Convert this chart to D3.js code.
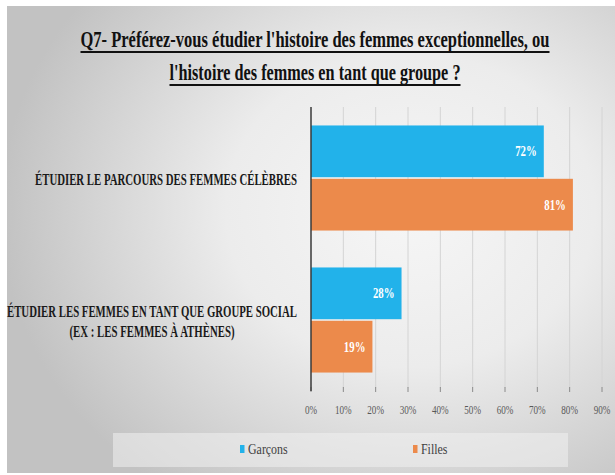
<!DOCTYPE html>
<html><head><meta charset="utf-8">
<script src="https://cdn.jsdelivr.net/npm/d3@7"></script>
<style>html,body{margin:0;padding:0;background:#fff;}svg{display:block;}</style>
</head><body>
<svg id="chart" width="615" height="475"></svg>
<script>
const titleLines = ["Q7- Préférez-vous étudier l'histoire des femmes exceptionnelles, ou", "l'histoire des femmes en tant que groupe ?"];
const categories = ["ÉTUDIER LE PARCOURS DES FEMMES CÉLÈBRES", "ÉTUDIER LES FEMMES EN TANT QUE GROUPE SOCIAL|(EX : LES FEMMES À ATHÈNES)"];
const seriesNames = ["Garçons", "Filles"];
const garcons = [0.72, 0.28];
const filles = [0.81, 0.19];
const tickValues = [0, 0.1, 0.2, 0.3, 0.4, 0.5, 0.6, 0.7, 0.8, 0.9];
const colors = ["#22b2ea", "#ec8a4b"];

const FONT = '"Liberation Serif", "Times New Roman", serif';
const svg = d3.select("#chart");
const defs = svg.append("defs");
const grad = defs.append("radialGradient").attr("id", "bg")
  .attr("gradientUnits", "userSpaceOnUse")
  .attr("cx", 410).attr("cy", 210).attr("r", 410)
  .attr("gradientTransform", "translate(410,210) scale(1,0.85) translate(-410,-210)");
grad.append("stop").attr("offset", 0).attr("stop-color", "#f6f6f6");
grad.append("stop").attr("offset", 0.45).attr("stop-color", "#ececec");
grad.append("stop").attr("offset", 1).attr("stop-color", "#c2c2c2");

svg.append("rect").attr("x", 7).attr("y", 6).attr("width", 608).attr("height", 467).attr("fill", "url(#bg)");

function condense(sel, factor) {
  sel.each(function() {
    const w = this.getComputedTextLength();
    d3.select(this).attr("textLength", w * factor).attr("lengthAdjust", "spacingAndGlyphs");
  });
}

// Title
const titleWidths = [469, 291];
const titleY = [47, 80];
titleLines.forEach((t, i) => {
  svg.append("text").attr("x", 315).attr("y", titleY[i]).attr("text-anchor", "middle")
    .style("font-family", FONT).style("font-weight", "bold").style("font-size", "24px")
    .attr("fill", "#111").attr("textLength", titleWidths[i]).attr("lengthAdjust", "spacingAndGlyphs").text(t);
  svg.append("line").attr("x1", 315 - titleWidths[i] / 2).attr("x2", 315 + titleWidths[i] / 2)
    .attr("y1", titleY[i] + 5).attr("y2", titleY[i] + 5).attr("stroke", "#111").attr("stroke-width", 2);
});

// Scales
const plotTop = 107, plotBottom = 391;
const x = d3.scaleLinear().domain([0, 0.9]).range([311, 602]);
const y0 = d3.scaleBand().domain(categories).range([plotTop, plotBottom]).paddingInner(0.26).paddingOuter(0.13);
const y1 = d3.scaleBand().domain(seriesNames).range([0, y0.bandwidth()]).paddingInner(0.03);

// gridlines
svg.append("g").selectAll("line").data(tickValues.slice(1)).join("line")
  .attr("x1", d => x(d)).attr("x2", d => x(d)).attr("y1", plotTop).attr("y2", plotBottom - 3)
  .attr("stroke", "#d4d4d4").attr("stroke-width", 1);
// tick marks
svg.append("g").selectAll("line").data(tickValues).join("line")
  .attr("x1", d => x(d)).attr("x2", d => x(d)).attr("y1", plotBottom - 4).attr("y2", plotBottom + 1)
  .attr("stroke", "#8a8a8a").attr("stroke-width", 1);

// tick labels
const tl = svg.append("g").selectAll("text").data(tickValues).join("text")
  .attr("x", d => x(d)).attr("y", 414).attr("text-anchor", "middle")
  .style("font-family", FONT).style("font-size", "13px").attr("fill", "#595959")
  .text(d => d3.format(".0%")(d));
condense(tl, 0.7);

// bars
const data = categories.map((c, i) => ({cat: c, vals: [{s: seriesNames[0], v: garcons[i], c: colors[0]}, {s: seriesNames[1], v: filles[i], c: colors[1]}]}));
const groups = svg.append("g").selectAll("g").data(data).join("g")
  .attr("transform", d => `translate(0,${y0(d.cat)})`);
groups.selectAll("rect").data(d => d.vals).join("rect")
  .attr("x", x(0)).attr("y", d => y1(d.s)).attr("width", d => x(d.v) - x(0)).attr("height", y1.bandwidth())
  .attr("fill", d => d.c);
const dl = groups.selectAll("text").data(d => d.vals).join("text")
  .attr("x", d => x(d.v) - 7).attr("y", d => y1(d.s) + y1.bandwidth() / 2 + 5).attr("text-anchor", "end")
  .style("font-family", FONT).style("font-weight", "bold").style("font-size", "15px").attr("fill", "#fff")
  .text(d => d3.format(".0%")(d.v));
condense(dl, 0.72);

// axis line
svg.append("line").attr("x1", x(0)).attr("x2", x(0)).attr("y1", plotTop).attr("y2", plotBottom)
  .attr("stroke", "#3a3a3a").attr("stroke-width", 1.5);

// category labels
const labelWidths = [[262], [290, 165]];
categories.forEach((c, i) => {
  const lines = c.split("|");
  const cy = y0(c) + y0.bandwidth() / 2;
  const lh = 20;
  const startY = cy + 7 - (lines.length - 1) * lh / 2;
  const maxW = d3.max(labelWidths[i]);
  const center = 297 - maxW / 2;
  lines.forEach((l, j) => svg.append("text").attr("x", center).attr("y", startY + j * lh)
    .style("font-family", FONT).style("font-weight", "bold").style("font-size", "17px")
    .attr("fill", "#1a1a1a").attr("text-anchor", "middle")
    .attr("textLength", labelWidths[i][j]).attr("lengthAdjust", "spacingAndGlyphs").text(l));
});

// legend
svg.append("rect").attr("x", 113).attr("y", 433).attr("width", 455).attr("height", 34)
  .attr("fill", "#f0f0f0").attr("fill-opacity", 0.55);
const legX = [240, 413];
seriesNames.forEach((s, i) => {
  svg.append("rect").attr("x", legX[i]).attr("y", 445).attr("width", 4.5).attr("height", 8).attr("fill", colors[i]);
  const t = svg.append("text").attr("x", legX[i] + 8).attr("y", 454)
    .style("font-family", FONT).style("font-size", "14px").attr("fill", "#404040").text(s);
  condense(t, 0.85);
});
</script>
</body></html>
